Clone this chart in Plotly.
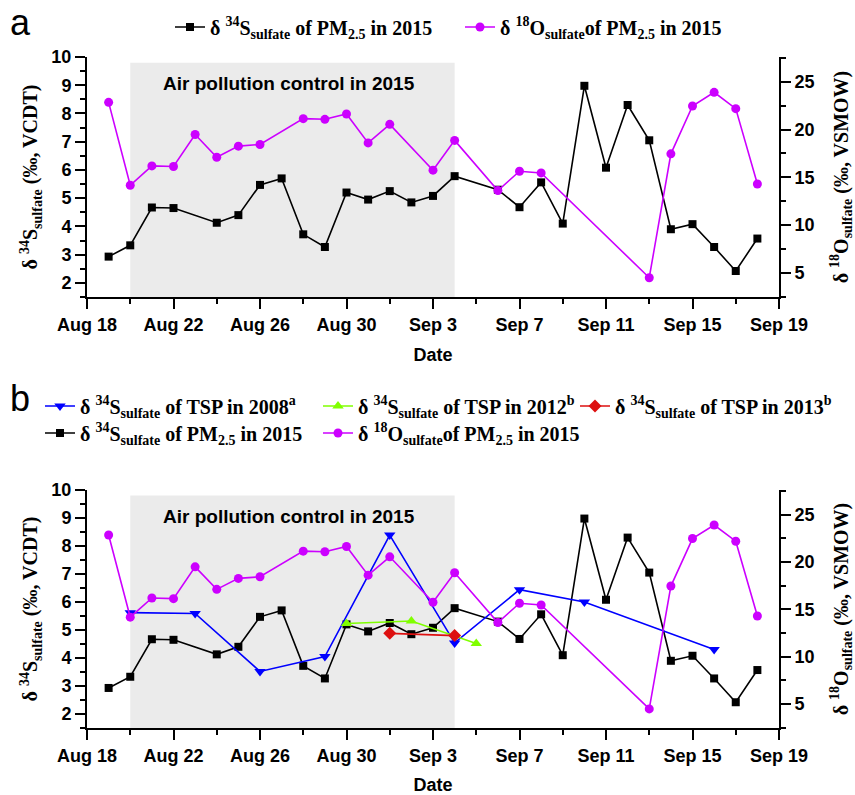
import plotly.graph_objects as go
import pandas as pd

# ---------------- data ----------------
dates_s34_pm25 = ["2015-08-19", "2015-08-20", "2015-08-21", "2015-08-22", "2015-08-24",
                  "2015-08-25", "2015-08-26", "2015-08-27", "2015-08-28", "2015-08-29",
                  "2015-08-30", "2015-08-31", "2015-09-01", "2015-09-02", "2015-09-03",
                  "2015-09-04", "2015-09-06", "2015-09-07", "2015-09-08", "2015-09-09",
                  "2015-09-10", "2015-09-11", "2015-09-12", "2015-09-13", "2015-09-14",
                  "2015-09-15", "2015-09-16", "2015-09-17", "2015-09-18"]
s34_pm25 = [2.93, 3.33, 4.67, 4.65, 4.13, 4.40, 5.47, 5.70, 3.72, 3.27,
            5.20, 4.95, 5.25, 4.85, 5.08, 5.78, 5.30, 4.68, 5.56, 4.10,
            8.98, 6.08, 8.30, 7.05, 3.90, 4.08, 3.27, 2.42, 3.57]

dates_o18_pm25 = ["2015-08-19", "2015-08-20", "2015-08-21", "2015-08-22", "2015-08-23",
                  "2015-08-24", "2015-08-25", "2015-08-26", "2015-08-28", "2015-08-29",
                  "2015-08-30", "2015-08-31", "2015-09-01", "2015-09-03", "2015-09-04",
                  "2015-09-06", "2015-09-07", "2015-09-08", "2015-09-13", "2015-09-14",
                  "2015-09-15", "2015-09-16", "2015-09-17", "2015-09-18"]
o18_pm25 = [22.85, 14.16, 16.19, 16.12, 19.48, 17.10, 18.26, 18.43, 21.14, 21.07,
            21.63, 18.60, 20.54, 15.74, 18.86, 13.60, 15.63, 15.45, 4.47, 17.45,
            22.47, 23.90, 22.19, 14.29]

dates_tsp_2008 = ["2015-08-20", "2015-08-23", "2015-08-26", "2015-08-29", "2015-09-01",
                  "2015-09-04", "2015-09-07", "2015-09-10", "2015-09-16"]
s34_tsp_2008 = [5.62, 5.59, 3.52, 4.05, 8.39, 4.54, 6.44, 6.00, 4.30]

dates_tsp_2012 = ["2015-08-30", "2015-09-02", "2015-09-05"]
s34_tsp_2012 = [5.23, 5.32, 4.52]

dates_tsp_2013 = ["2015-09-01", "2015-09-04"]
s34_tsp_2013 = [4.88, 4.80]

x_tick_vals = ["2015-08-18", "2015-08-22", "2015-08-26", "2015-08-30", "2015-09-03",
               "2015-09-07", "2015-09-11", "2015-09-15", "2015-09-19"]
x_tick_text = ["Aug 18", "Aug 22", "Aug 26", "Aug 30", "Sep 3",
               "Sep 7", "Sep 11", "Sep 15", "Sep 19"]

control_period = ["2015-08-20", "2015-09-04"]
control_label = "Air pollution control in 2015"

# ---------------- labels ----------------
lab_s34_pm = "δ <sup>34</sup>S<sub>sulfate</sub> of PM<sub>2.5</sub> in 2015"
lab_o18_pm = "δ <sup>18</sup>O<sub>sulfate</sub>of PM<sub>2.5</sub> in 2015"
lab_2008 = "δ <sup>34</sup>S<sub>sulfate</sub> of TSP in 2008<sup>a</sup>"
lab_2012 = "δ <sup>34</sup>S<sub>sulfate</sub> of TSP in 2012<sup>b</sup>"
lab_2013 = "δ <sup>34</sup>S<sub>sulfate</sub> of TSP in 2013<sup>b</sup>"

BLACK = "#000000"
MAG = "#CC00FF"
BLUE = "#0000FF"
GREEN = "#80FF00"
RED = "#DD1010"

SANS = "Liberation Sans"
SERIF = "Liberation Serif"

fig = go.Figure()

def add(x, y, name, color, symbol, size, xa, ya, legend):
    fig.add_trace(go.Scatter(
        x=pd.to_datetime(x), y=y, name=name, mode="lines+markers",
        line=dict(color=color, width=1.6),
        marker=dict(color=color, symbol=symbol, size=size),
        xaxis=xa, yaxis=ya, legend=legend, showlegend=True))

# panel a
add(dates_s34_pm25, s34_pm25, lab_s34_pm, BLACK, "square", 8, "x", "y", "legend")
add(dates_o18_pm25, o18_pm25, lab_o18_pm, MAG, "circle", 9, "x", "y2", "legend2")
# panel b
add(dates_s34_pm25, s34_pm25, lab_s34_pm, BLACK, "square", 8, "x2", "y3", "legend6")
add(dates_o18_pm25, o18_pm25, lab_o18_pm, MAG, "circle", 9, "x2", "y4", "legend7")
add(dates_tsp_2008, s34_tsp_2008, lab_2008, BLUE, "triangle-down", 10, "x2", "y3", "legend3")
add(dates_tsp_2012, s34_tsp_2012, lab_2012, GREEN, "triangle-up", 10, "x2", "y3", "legend4")
add(dates_tsp_2013, s34_tsp_2013, lab_2013, RED, "diamond", 10, "x2", "y3", "legend5")

tickfont = dict(family=SANS, size=18, color="black", weight="bold")
titlefont_serif = dict(family=SERIF, size=20, color="black", weight="bold")

minor_x = pd.date_range("2015-08-18", "2015-09-19", freq="2D")

def xaxis_cfg(anchor):
    return dict(
        anchor=anchor, domain=[0, 1],
        range=[pd.Timestamp("2015-08-18"), pd.Timestamp("2015-09-19")],
        tickmode="array", tickvals=pd.to_datetime(x_tick_vals), ticktext=x_tick_text,
        ticks="outside", ticklen=10, tickwidth=2, tickcolor="black",
        minor=dict(tickmode="array", tickvals=minor_x, ticks="outside",
                   ticklen=5, tickwidth=2, tickcolor="black"),
        showline=True, linecolor="black", linewidth=2,
        showgrid=False, zeroline=False, tickfont=tickfont,
        title=dict(text="Date", font=dict(family=SANS, size=18, color="black", weight="bold"),
                   standoff=15),
    )

def yleft_cfg(anchor, domain):
    return dict(
        anchor=anchor, domain=domain, range=[1.5, 10], tick0=0, dtick=1,
        ticks="outside", ticklen=10, tickwidth=2, tickcolor="black",
        minor=dict(dtick=0.5, tick0=0, ticks="outside", ticklen=5, tickwidth=2, tickcolor="black"),
        showline=True, linecolor="black", linewidth=2,
        showgrid=False, zeroline=False, tickfont=tickfont,
        title=dict(text="δ <sup>34</sup>S<sub>sulfate</sub> (‰, VCDT)", font=titlefont_serif,
                   standoff=8),
    )

def yright_cfg(anchor, overlay):
    return dict(
        anchor=anchor, overlaying=overlay, side="right", range=[2.45, 27.6], tick0=0, dtick=5,
        ticks="outside", ticklen=10, tickwidth=2, tickcolor="black",
        minor=dict(dtick=2.5, tick0=0, ticks="outside", ticklen=5, tickwidth=2, tickcolor="black"),
        showline=True, linecolor="black", linewidth=2,
        showgrid=False, zeroline=False, tickfont=tickfont,
        title=dict(text="δ <sup>18</sup>O<sub>sulfate</sub> (‰, VSMOW)", font=titlefont_serif,
                   standoff=20),
    )

L, R, T, B = 87, 76, 57, 67
W, H = 855, 795
ph = H - T - B
dom_a = [(H - B - 297) / ph, 1.0]
dom_b = [0.0, (H - B - 490) / ph]

def px2x(px):
    return (px - L) / (W - L - R)

def py2y(py):
    return (H - B - py) / ph

legfont = dict(family=SERIF, size=20, color="black", weight="bold")

def leg(px, py):
    return dict(x=px2x(px), y=py2y(py), xanchor="left", yanchor="middle",
                bgcolor="rgba(0,0,0,0)", borderwidth=0, font=legfont,
                orientation="v", itemwidth=30)

shapes = []
annotations = []
for xr, yr in (("x", "y"), ("x2", "y3")):
    shapes.append(dict(type="rect", xref=xr, yref=yr, layer="below",
                       x0=control_period[0], x1=control_period[1], y0=1.5, y1=9.8,
                       fillcolor="#EBEBEB", line=dict(width=0)))
    annotations.append(dict(xref=xr, yref=yr, x="2015-08-27 08:00", y=9.05,
                            text=control_label, showarrow=False,
                            font=dict(family=SANS, size=19, color="black", weight="bold")))

annotations.append(dict(xref="paper", yref="paper", x=px2x(8), y=py2y(22), xanchor="left",
                        yanchor="middle", text="a", showarrow=False,
                        font=dict(family=SANS, size=36, color="black")))
annotations.append(dict(xref="paper", yref="paper", x=px2x(8), y=py2y(398), xanchor="left",
                        yanchor="middle", text="b", showarrow=False,
                        font=dict(family=SANS, size=36, color="black")))

fig.update_layout(
    width=W, height=H,
    margin=dict(l=L, r=R, t=T, b=B, autoexpand=False),
    paper_bgcolor="white", plot_bgcolor="white",
    xaxis=xaxis_cfg("y"),
    yaxis=yleft_cfg("x", dom_a),
    yaxis2=yright_cfg("x", "y"),
    xaxis2=xaxis_cfg("y3"),
    yaxis3=yleft_cfg("x2", dom_b),
    yaxis4=yright_cfg("x2", "y3"),
    shapes=shapes,
    annotations=annotations,
    legend=leg(170, 27),
    legend2=leg(460, 27),
    legend3=leg(40, 406),
    legend4=leg(318, 406),
    legend5=leg(575, 406),
    legend6=leg(40, 433),
    legend7=leg(318, 433),
)

fig.write_html(
    "out.html",
    config={"displayModeBar": False},
    post_script="document.body.style.margin='0px';"
                "document.documentElement.style.overflow='hidden';"
                "document.body.style.overflow='hidden';",
)
